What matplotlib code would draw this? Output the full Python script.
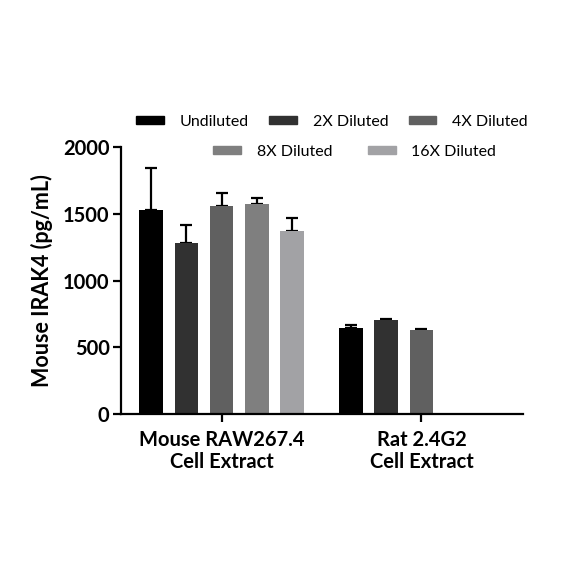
import matplotlib
matplotlib.use('Agg')
import matplotlib.pyplot as plt
from matplotlib.patches import Patch
import numpy as np

# data
groups = ['Mouse RAW267.4\nCell Extract', 'Rat 2.4G2\nCell Extract']
series = ['Undiluted', '2X Diluted', '4X Diluted', '8X Diluted', '16X Diluted']
colors = ['#000000', '#313131', '#606060', '#7f7f7f', '#a2a2a5']
mouse_vals = [1529, 1280, 1559, 1572, 1372]
mouse_err = [313, 139, 95, 47, 95]
rat_vals = [645, 705, 627]
rat_err = [20, 7, 8]

plt.rcParams['font.family'] = ['Lato', 'DejaVu Sans']

fig = plt.figure(figsize=(5.84, 5.84), dpi=100)
ax = fig.add_axes([0.2067, 0.2906, 0.6888, 0.4577])

step = 1.0
width = 0.67
group_x = [0, 5.67]  # slot index of first bar in each group

for gi, (vals, errs) in enumerate([(mouse_vals, mouse_err), (rat_vals, rat_err)]):
    for i, (v, e) in enumerate(zip(vals, errs)):
        x = group_x[gi] + i * step
        ax.bar(x, v, width=width, color=colors[i], zorder=2)
        ax.errorbar(x, v, yerr=[[0], [e]], fmt='none', ecolor='black',
                    elinewidth=1.6, capsize=4.5, capthick=1.6, zorder=1)

ax.set_xlim(-0.865, 10.55)
ax.set_ylim(0, 2000)
ax.set_yticks([0, 500, 1000, 1500, 2000])
ax.set_xticks([g + 2 * step for g in group_x])
ax.set_xticklabels(groups, fontweight='bold', fontsize=14.5, linespacing=1.15)
ax.set_ylabel('Mouse IRAK4 (pg/mL)', fontweight='bold', fontsize=15.5, labelpad=7)
for lab in ax.get_yticklabels():
    lab.set_fontweight('bold')
    lab.set_fontsize(14.5)

for s in ['top', 'right']:
    ax.spines[s].set_visible(False)
for s in ['left', 'bottom']:
    ax.spines[s].set_linewidth(1.6)
ax.tick_params(axis='both', width=1.6, length=6, direction='out')
ax.tick_params(axis='y', pad=2)
ax.tick_params(axis='x', pad=5)

handles = [Patch(color=c, label=s) for c, s in zip(colors, series)]
kw = dict(frameon=False, fontsize=11.5, handlelength=1.75, handleheight=0.44,
          handletextpad=1.0, borderpad=0, borderaxespad=0, loc='center left')
leg1 = fig.legend(handles=handles[:3], ncol=3, columnspacing=1.25,
                  bbox_to_anchor=(136 / 584, 1 - 121.7 / 584), **kw)
leg2 = fig.legend(handles=handles[3:], ncol=2, columnspacing=2.2,
                  bbox_to_anchor=(213 / 584, 1 - 151.7 / 584), **kw)

fig.savefig('out.png', dpi=100)
